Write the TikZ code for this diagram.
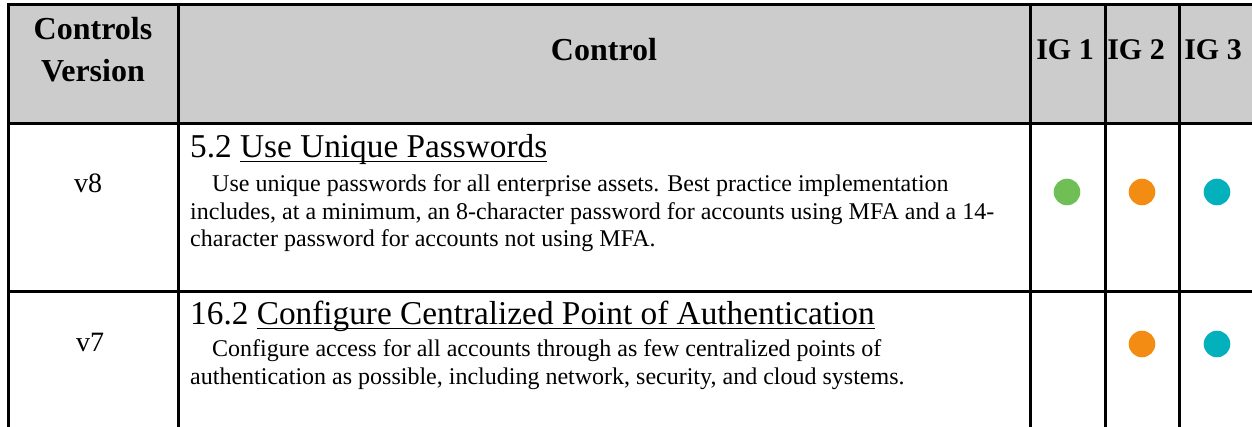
\documentclass[tikz,border=0pt]{standalone}
\usepackage{fontspec}
\setmainfont{Liberation Serif}
\newcommand\ulword[1]{\setbox0\hbox{#1}\rlap{\rule[-4pt]{\wd0}{1.4pt}}\box0}
\definecolor{hdrgray}{HTML}{CCCCCC}
\definecolor{ig1green}{HTML}{6FBE56}
\definecolor{ig2orange}{HTML}{F28C12}
\definecolor{ig3teal}{HTML}{03B1BD}
\tikzset{
  gridline/.style={line width=3pt, black},
  hdrtext/.style={inner sep=0pt, anchor=base, font=\fontsize{32}{38}\selectfont\bfseries},
  igtext/.style={hdrtext, font=\fontsize{30}{36}\selectfont\bfseries},
  vertext/.style={inner sep=0pt, anchor=base, font=\fontsize{28}{34}\selectfont},
  titletext/.style={inner sep=0pt, anchor=base west, font=\fontsize{33.3}{40}\selectfont},
  bodytext/.style={inner sep=0pt, anchor=base west, font=\fontsize{24}{28}\selectfont},
  dot/.style={circle, inner sep=0pt, minimum size=26.6pt, draw=none}
}
\begin{document}
\begin{tikzpicture}[x=1pt,y=-1pt]
\useasboundingbox (0,0) rectangle (1252,427);
\clip (0,0) rectangle (1252,427);
% header background
\fill[hdrgray] (8,5) rectangle (1262,124);
% grid
\draw[gridline] (8,5) -- (1262,5);
\draw[gridline] (8,124) -- (1262,124);
\draw[gridline] (8,292) -- (1262,292);
\draw[gridline] (8,3.5) -- (8,435);
\draw[gridline] (178,3.5) -- (178,435);
\draw[gridline] (1030,3.5) -- (1030,435);
\draw[gridline] (1105,3.5) -- (1105,435);
\draw[gridline] (1179,3.5) -- (1179,435);
% header texts
\node[hdrtext] (hcv1) at (93,40) {Controls};
\node[hdrtext] (hcv2) at (93,82) {Version};
\node[hdrtext] (hctl) at (604,61) {Control};
\node[igtext] (hig1) at (1065,60) {IG 1};
\node[igtext] (hig2) at (1136,60) {IG 2};
\node[igtext] (hig3) at (1213,60) {IG 3};
% row 1
\node[vertext] (v8) at (88,193) {v8};
\node[titletext] (t52) at (190,158) {5.2 \ulword{Use Unique Passwords}};
\node[bodytext] (d52a) at (212,192) {Use unique passwords for all enterprise assets. Best practice implementation};
\node[bodytext] (d52b) at (190,219.5) {includes, at a minimum, an 8-character password for accounts using MFA and a 14-};
\node[bodytext] (d52c) at (190,247) {character password for accounts not using MFA.};
\node[dot, fill=ig1green] (r1ig1) at (1067,192) {};
\node[dot, fill=ig2orange] (r1ig2) at (1142,192) {};
\node[dot, fill=ig3teal] (r1ig3) at (1217,192) {};
% row 2
\node[vertext] (v7) at (90,351) {v7};
\node[titletext] (t162) at (190,325) {16.2 \ulword{Configure Centralized Point of Authentication}};
\node[bodytext] (d162a) at (212,356.5) {Configure access for all accounts through as few centralized points of};
\node[bodytext] (d162b) at (190,384) {authentication as possible, including network, security, and cloud systems.};
\node[dot, fill=ig2orange] (r2ig2) at (1142,344) {};
\node[dot, fill=ig3teal] (r2ig3) at (1217,344) {};
\end{tikzpicture}
\end{document}
